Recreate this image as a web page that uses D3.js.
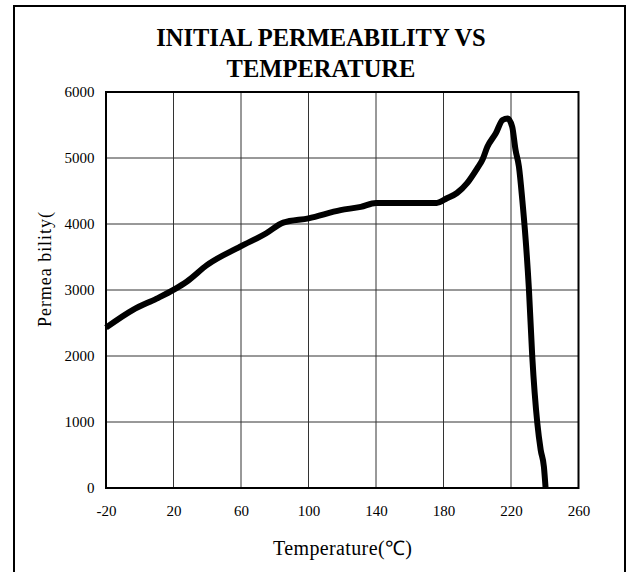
<!DOCTYPE html>
<html>
<head>
<meta charset="utf-8">
<script src="https://cdn.jsdelivr.net/npm/d3@7"></script>
<style>
  body { margin: 0; background: #fff; }
  text { font-family: "Liberation Serif", "Times New Roman", serif; fill: #000; }
</style>
</head>
<body>
<div id="chartDiv"></div>
<script>
"use strict";

// chart data
var temps = [-20, -4, 10, 20.5, 28, 40, 59.5, 75, 85, 100, 119, 131, 140, 176, 182, 188, 194, 200, 203, 206, 211, 215, 218, 220.7, 222.7, 224.7, 226.7, 228.7, 230.6, 232.6, 235.6, 237.6, 239.5, 240.5];
var perms = [2430, 2700, 2870, 3010, 3130, 3380, 3656, 3860, 4020, 4086, 4210, 4260, 4320, 4320, 4390, 4470, 4620, 4844, 4970, 5170, 5374, 5576, 5600, 5474, 5121, 4868, 4364, 3758, 3020, 1990, 980, 576, 323, 0];
var xTicks = [-20, 20, 60, 100, 140, 180, 220, 260];
var yTicks = [0, 1000, 2000, 3000, 4000, 5000, 6000];
var titleLines = ["INITIAL PERMEABILITY VS", "TEMPERATURE"];
var xTitle = "Temperature(\u2103)";
var yTitle = "Permea bility(";

// svg parameters
var svgWidth = 630;
var svgHeight = 572;
var plotLeft = 106, plotRight = 578.5, plotTop = 92, plotBottom = 488;

var svg = d3.select("#chartDiv").append("svg")
    .attr("width", svgWidth)
    .attr("height", svgHeight);

var x = d3.scaleLinear().domain([-20, 260]).range([plotLeft, plotRight]);
var y = d3.scaleLinear().domain([0, 6000]).range([plotBottom, plotTop]);

// outer frame
svg.append("rect")
    .attr("x", 14).attr("y", 6)
    .attr("width", 611).attr("height", 600)
    .attr("fill", "none").attr("stroke", "#000").attr("stroke-width", 2);

// title
svg.append("g").selectAll("text").data(titleLines).enter()
    .append("text")
    .attr("x", 321)
    .attr("y", function (d, i) { return 46 + i * 31; })
    .attr("text-anchor", "middle")
    .attr("font-size", 24.5)
    .attr("font-weight", "bold")
    .text(function (d) { return d; });

// grid lines
svg.append("g").selectAll("line").data(xTicks.slice(1, -1)).enter()
    .append("line")
    .attr("x1", function (d) { return x(d); })
    .attr("x2", function (d) { return x(d); })
    .attr("y1", plotTop).attr("y2", plotBottom)
    .attr("stroke", "#333").attr("stroke-width", 1);

svg.append("g").selectAll("line").data(yTicks.slice(1, -1)).enter()
    .append("line")
    .attr("x1", plotLeft).attr("x2", plotRight)
    .attr("y1", function (d) { return y(d); })
    .attr("y2", function (d) { return y(d); })
    .attr("stroke", "#333").attr("stroke-width", 1);

// plot frame
svg.append("rect")
    .attr("x", plotLeft).attr("y", plotTop)
    .attr("width", plotRight - plotLeft).attr("height", plotBottom - plotTop)
    .attr("fill", "none").attr("stroke", "#000").attr("stroke-width", 2);

// axes labels (plain hyphen for negatives, like the original)
var plainFormat = function (d) { return String(d); };

var xAxis = d3.axisBottom(x).tickValues(xTicks).tickFormat(plainFormat).tickSize(0).tickPadding(17);
svg.append("g")
    .attr("transform", "translate(0," + plotBottom + ")")
    .call(xAxis)
    .call(function (g) { g.select(".domain").remove(); })
    .selectAll("text")
    .attr("font-size", 15)
    .attr("fill", "#000");

var yAxis = d3.axisLeft(y).tickValues(yTicks).tickFormat(plainFormat).tickSize(0).tickPadding(11.5);
svg.append("g")
    .attr("transform", "translate(" + plotLeft + ",0)")
    .call(yAxis)
    .call(function (g) { g.select(".domain").remove(); })
    .selectAll("text")
    .attr("font-size", 15)
    .attr("fill", "#000");

// axis titles
svg.append("text")
    .attr("x", 273).attr("y", 555)
    .attr("font-size", 20)
    .attr("textLength", 139)
    .attr("lengthAdjust", "spacing")
    .text(xTitle);

svg.append("text")
    .attr("transform", "translate(51,327) rotate(-90)")
    .attr("font-size", 18)
    .attr("textLength", 115)
    .attr("lengthAdjust", "spacing")
    .text(yTitle);

// permeability curve
var line = d3.line()
    .x(function (d, i) { return x(temps[i]); })
    .y(function (d) { return y(d); })
    .curve(d3.curveMonotoneX);

svg.append("path")
    .datum(perms)
    .attr("d", line)
    .attr("fill", "none")
    .attr("stroke", "#000")
    .attr("stroke-width", 6)
    .attr("stroke-linejoin", "round")
    .attr("stroke-linecap", "butt");
</script>
</body>
</html>
